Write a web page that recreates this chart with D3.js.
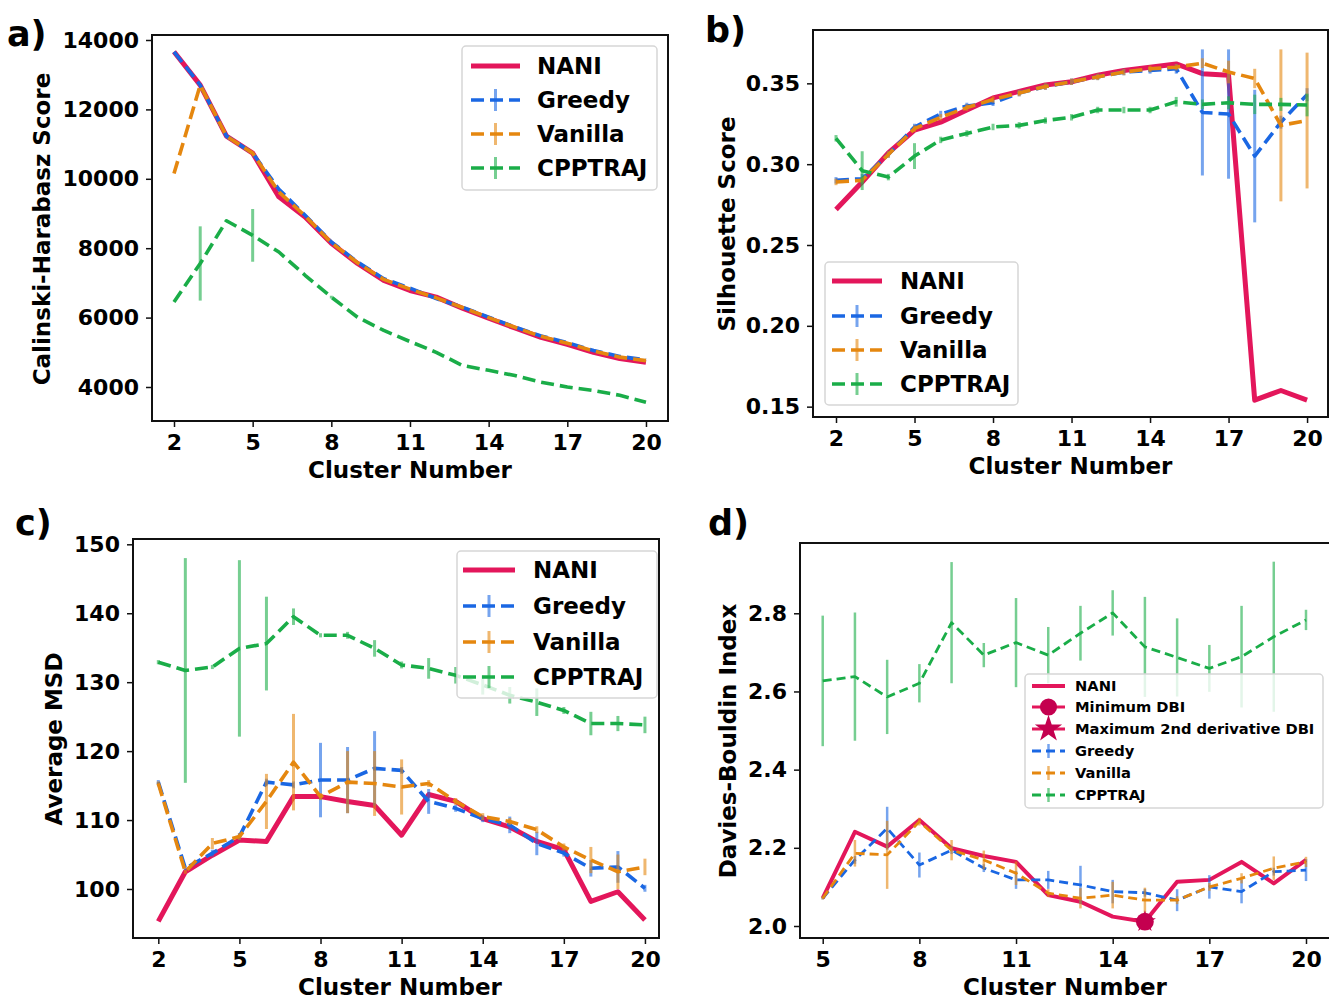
<!DOCTYPE html>
<html>
<head>
<meta charset="utf-8">
<script src="https://cdn.jsdelivr.net/npm/d3@7"></script>
<style>
  body { margin: 0; background: #fff; }
  text { font-family: "DejaVu Sans", sans-serif; font-weight: bold; }
</style>
</head>
<body>
<svg id="fig" width="1329" height="1000"></svg>
<script>
// cluster numbers on the x axes
const clusters = [2, 3, 4, 5, 6, 7, 8, 9, 10, 11, 12, 13, 14, 15, 16, 17, 18, 19, 20];
const clustersD = [5, 6, 7, 8, 9, 10, 11, 12, 13, 14, 15, 16, 17, 18, 19, 20];

// a) Calinski-Harabasz score
const chNani = [13660, 12700, 11230, 10740, 9480, 8900, 8140, 7560, 7070, 6780, 6590, 6270, 5980, 5700, 5430, 5230, 5000, 4820, 4710];
const chGreedy = [13660, 12700, 11230, 10740, 9700, 8950, 8180, 7600, 7120, 6850, 6550, 6300, 6010, 5730, 5470, 5280, 5050, 4880, 4780];
const chVanilla = [10150, 12700, 11230, 10740, 9620, 8930, 8160, 7580, 7100, 6820, 6570, 6290, 6000, 5720, 5460, 5260, 5040, 4860, 4760];
const chCpptraj = [6450, 7560, 8790, 8370, 7890, 7220, 6590, 6010, 5630, 5310, 5000, 4620, 4480, 4330, 4140, 4000, 3900, 3760, 3560];
const chCpptrajErr = [0, 1070, 0, 760, 0, 0, 40, 0, 0, 0, 0, 0, 0, 0, 0, 0, 0, 0, 0];

// b) Silhouette score
const silNani = [0.272, 0.289, 0.307, 0.321, 0.326, 0.3335, 0.341, 0.345, 0.349, 0.351, 0.355, 0.358, 0.360, 0.362, 0.356, 0.355, 0.154, 0.160, 0.154];
const silGreedy = [0.290, 0.291, 0.306, 0.323, 0.331, 0.336, 0.338, 0.344, 0.348, 0.351, 0.354, 0.357, 0.358, 0.359, 0.332, 0.331, 0.305, 0.326, 0.343];
const silGreedyErr = [0.002, 0.003, 0.002, 0.002, 0.002, 0.002, 0.002, 0.002, 0.002, 0.002, 0.002, 0.002, 0.002, 0.003, 0.039, 0.040, 0.041, 0.004, 0.004];
const silVanilla = [0.289, 0.290, 0.306, 0.322, 0.329, 0.335, 0.340, 0.344, 0.348, 0.351, 0.354, 0.357, 0.359, 0.360, 0.3625, 0.357, 0.353, 0.324, 0.327];
const silVanillaErr = [0.002, 0.002, 0.002, 0.002, 0.002, 0.002, 0.002, 0.002, 0.002, 0.002, 0.002, 0.002, 0.002, 0.002, 0.003, 0.007, 0.006, 0.047, 0.042];
const silCpptraj = [0.316, 0.296, 0.292, 0.305, 0.315, 0.319, 0.323, 0.324, 0.327, 0.329, 0.3335, 0.3335, 0.3335, 0.3386, 0.337, 0.338, 0.337, 0.337, 0.3366];
const silCpptrajErr = [0.002, 0.012, 0.002, 0.008, 0.002, 0.002, 0.002, 0.002, 0.002, 0.002, 0.002, 0.002, 0.002, 0.003, 0.003, 0.004, 0.006, 0.004, 0.007];

// c) Average MSD
const msdNani = [95.3, 102.5, 104.9, 107.1, 106.9, 113.4, 113.4, 112.7, 112.1, 107.8, 113.7, 112.7, 110.2, 109.0, 106.9, 105.7, 98.2, 99.6, 95.5];
const msdGreedy = [115.5, 103.0, 105.2, 107.6, 115.5, 115.1, 115.8, 115.8, 117.5, 117.2, 112.7, 111.7, 110.2, 109.3, 106.6, 105.2, 103.0, 103.2, 100.1];
const msdGreedyErr = [0.3, 0.3, 0.5, 0.5, 0.5, 0.5, 5.4, 4.8, 5.4, 0.5, 1.8, 0.5, 0.5, 1.2, 1.7, 0.5, 1.2, 2.3, 0.5];
const msdVanilla = [115.3, 102.5, 106.6, 107.6, 112.7, 118.4, 113.4, 115.5, 115.3, 114.8, 115.3, 112.7, 110.5, 109.8, 108.6, 106.1, 104.2, 102.5, 103.2];
const msdVanillaErr = [0.3, 0.3, 0.8, 0.5, 4.0, 7.0, 0.5, 4.5, 4.7, 4.0, 0.5, 0.5, 0.5, 0.5, 0.5, 0.5, 1.9, 2.5, 1.2];
const msdCpptraj = [132.9, 131.7, 132.2, 134.9, 135.6, 139.5, 136.8, 136.8, 134.9, 132.5, 132.0, 131.0, 129.6, 128.1, 127.1, 125.9, 124.0, 124.0, 123.8];
const msdCpptrajErr = [0.3, 16.3, 0.3, 12.8, 6.8, 1.2, 0.3, 0.5, 1.2, 0.5, 1.5, 1.2, 1.4, 1.2, 2.0, 0.5, 1.7, 1.1, 1.2];

// d) Davies-Bouldin index
const dbNani = [2.071, 2.241, 2.203, 2.271, 2.199, 2.179, 2.164, 2.079, 2.062, 2.024, 2.011, 2.113, 2.118, 2.164, 2.109, 2.169];
const dbGreedy = [2.071, 2.169, 2.250, 2.156, 2.194, 2.148, 2.118, 2.118, 2.105, 2.088, 2.085, 2.066, 2.100, 2.088, 2.139, 2.143];
const dbGreedyErr = [0.003, 0.01, 0.055, 0.032, 0.01, 0.01, 0.023, 0.023, 0.049, 0.03, 0.01, 0.028, 0.03, 0.03, 0.01, 0.028];
const dbVanilla = [2.071, 2.186, 2.182, 2.267, 2.194, 2.169, 2.135, 2.084, 2.071, 2.079, 2.066, 2.066, 2.100, 2.122, 2.148, 2.164];
const dbVanillaErr = [0.003, 0.034, 0.087, 0.01, 0.026, 0.024, 0.03, 0.01, 0.026, 0.034, 0.032, 0.01, 0.01, 0.013, 0.03, 0.013];
const dbCpptraj = [2.627, 2.638, 2.586, 2.621, 2.776, 2.693, 2.725, 2.693, 2.749, 2.801, 2.714, 2.687, 2.659, 2.689, 2.740, 2.783];
const dbCpptrajErr = [0.167, 0.164, 0.095, 0.049, 0.155, 0.031, 0.114, 0.072, 0.07, 0.058, 0.128, 0.1, 0.06, 0.13, 0.192, 0.026];
const dbMinCluster = [15];
const dbMaxDerivCluster = [15];

const cNani = "#e3165b", cGreedy = "#1a67e3", cVanilla = "#e5870f", cCpp = "#1aad48", cMark = "#c4004f";

const svg = d3.select("#fig");

function drawPanel(p) {
  const g = svg.append("g");
  const x = d3.scaleLinear().domain(p.xDomain).range([p.box.left, p.box.right]);
  const y = d3.scaleLinear().domain(p.yDomain).range([p.box.bottom, p.box.top]);

  p.series.forEach(s => {
    const pts = p.xs.map((c, i) => ({ c: c, v: s.values[i], e: s.err ? s.err[i] : 0 }));
    if (s.err) {
      g.append("g").selectAll("line").data(pts).join("line")
        .attr("x1", d => x(d.c)).attr("x2", d => x(d.c))
        .attr("y1", d => y(d.v - d.e)).attr("y2", d => y(d.v + d.e))
        .attr("stroke", s.color).attr("stroke-opacity", 0.6)
        .attr("stroke-width", p.errWidth);
    }
    g.append("path").datum(pts)
      .attr("d", d3.line().x(d => x(d.c)).y(d => y(d.v)))
      .attr("fill", "none")
      .attr("stroke", s.color)
      .attr("stroke-width", s.dashed ? p.dashWidth : p.solidWidth)
      .attr("stroke-dasharray", s.dashed ? p.dash : null)
      .attr("stroke-linejoin", "round");
  });

  if (p.markers) {
    p.markers.forEach(m => {
      m.xs.forEach(c => {
        const i = p.xs.indexOf(c);
        g.append("path")
          .attr("d", d3.symbol().type(m.type).size(m.size)())
          .attr("transform", `translate(${x(c)},${y(m.values[i])})`)
          .attr("fill", cMark);
      });
    });
  }

  // frame
  g.append("rect")
    .attr("x", p.box.left).attr("y", p.box.top)
    .attr("width", p.box.right - p.box.left).attr("height", p.box.bottom - p.box.top)
    .attr("fill", "none").attr("stroke", "#111").attr("stroke-width", 2);

  const xa = g.append("g").attr("transform", `translate(0,${p.box.bottom})`)
    .call(d3.axisBottom(x).tickValues(p.xTicks).tickSize(6).tickPadding(7.5).tickFormat(d3.format("d")));
  const ya = g.append("g").attr("transform", `translate(${p.box.left},0)`)
    .call(d3.axisLeft(y).tickValues(p.yTicks).tickSize(6).tickPadding(7).tickFormat(p.yFormat));
  [xa, ya].forEach(a => {
    a.select(".domain").remove();
    a.attr("font-size", 22).attr("font-family", "DejaVu Sans").attr("font-weight", "bold");
    a.selectAll(".tick line").attr("stroke", "#111").attr("stroke-width", 1.5);
    a.selectAll(".tick text").attr("fill", "#000");
  });

  g.append("text").attr("x", (p.box.left + p.box.right) / 2 + p.xLabelShift).attr("y", p.box.bottom + 57)
    .attr("text-anchor", "middle").attr("font-size", 23).text("Cluster Number");
  g.append("text").attr("transform", `translate(${p.yLabelX},${p.yLabelY}) rotate(-90)`)
    .attr("text-anchor", "middle").attr("dy", "0.35em").attr("font-size", 23).text(p.yLabel);
  g.append("text").attr("x", p.tag[0]).attr("y", p.tag[1]).attr("font-size", 35).text(p.tagText);

  // legend
  const L = p.legend;
  const lg = g.append("g");
  lg.append("rect").attr("x", L.x0).attr("y", L.y0).attr("width", L.x1 - L.x0).attr("height", L.y1 - L.y0)
    .attr("rx", 4).attr("fill", "#fff").attr("fill-opacity", 0.8).attr("stroke", "#d6d6d6").attr("stroke-width", 1.5);
  L.items.forEach((it, k) => {
    const yy = L.rows[k];
    const mid = (L.s0 + L.s1) / 2;
    if (it.kind === "solid") {
      lg.append("line").attr("x1", L.s0).attr("x2", L.s1).attr("y1", yy).attr("y2", yy)
        .attr("stroke", it.color).attr("stroke-width", p.solidWidth);
    } else if (it.kind === "marker") {
      lg.append("line").attr("x1", L.s0).attr("x2", L.s1).attr("y1", yy).attr("y2", yy)
        .attr("stroke", it.color).attr("stroke-width", p.solidWidth * 0.7);
      lg.append("path").attr("d", d3.symbol().type(it.type).size(it.size)())
        .attr("transform", `translate(${mid},${yy})`).attr("fill", cMark);
    } else {
      lg.append("line").attr("x1", L.s0).attr("x2", L.s1).attr("y1", yy).attr("y2", yy)
        .attr("stroke", it.color).attr("stroke-width", p.dashWidth).attr("stroke-dasharray", p.dash);
      lg.append("line").attr("x1", mid).attr("x2", mid).attr("y1", yy - L.bar).attr("y2", yy + L.bar)
        .attr("stroke", it.color).attr("stroke-opacity", 0.6).attr("stroke-width", p.errWidth);
    }
    lg.append("text").attr("x", L.tx).attr("y", yy).attr("dy", "0.36em")
      .attr("font-size", L.font).text(it.label);
  });
}

const mainItems = [
  { label: "NANI", kind: "solid", color: cNani },
  { label: "Greedy", kind: "err", color: cGreedy },
  { label: "Vanilla", kind: "err", color: cVanilla },
  { label: "CPPTRAJ", kind: "err", color: cCpp }
];
const common = { solidWidth: 5, dashWidth: 3.6, dash: "13,6", errWidth: 3 };

drawPanel(Object.assign({}, common, {
  box: { left: 152, right: 668, top: 35, bottom: 421 },
  xDomain: [1.161, 20.84], yDomain: [3020, 14144],
  xs: clusters, xTicks: [2, 5, 8, 11, 14, 17, 20], yTicks: [4000, 6000, 8000, 10000, 12000, 14000],
  yFormat: d3.format("d"),
  series: [
    { values: chNani, color: cNani },
    { values: chGreedy, color: cGreedy, dashed: true },
    { values: chVanilla, color: cVanilla, dashed: true },
    { values: chCpptraj, err: chCpptrajErr, color: cCpp, dashed: true }
  ],
  yLabel: "Calinski-Harabasz Score", yLabelX: 42, yLabelY: 229, xLabelShift: 0,
  tag: [7, 46], tagText: "a)",
  legend: { x0: 462, y0: 46, x1: 657, y1: 190, rows: [66, 100, 134, 168], s0: 471, s1: 520, tx: 537, font: 23, bar: 11, items: mainItems }
}));

drawPanel(Object.assign({}, common, {
  box: { left: 813, right: 1328, top: 30, bottom: 417 },
  xDomain: [1.121, 20.80], yDomain: [0.1436, 0.383],
  xs: clusters, xTicks: [2, 5, 8, 11, 14, 17, 20], yTicks: [0.15, 0.20, 0.25, 0.30, 0.35],
  yFormat: d3.format(".2f"),
  series: [
    { values: silNani, color: cNani },
    { values: silGreedy, err: silGreedyErr, color: cGreedy, dashed: true },
    { values: silVanilla, err: silVanillaErr, color: cVanilla, dashed: true },
    { values: silCpptraj, err: silCpptrajErr, color: cCpp, dashed: true }
  ],
  yLabel: "Silhouette Score", yLabelX: 727, yLabelY: 224, xLabelShift: 0,
  tag: [705, 42], tagText: "b)",
  legend: { x0: 825, y0: 262, x1: 1018, y1: 405, rows: [281, 316, 350, 384], s0: 832, s1: 882, tx: 900, font: 23, bar: 11, items: mainItems }
}));

drawPanel(Object.assign({}, common, {
  box: { left: 133, right: 659, top: 539, bottom: 938 },
  xDomain: [1.064, 20.52], yDomain: [92.89, 150.77],
  xs: clusters, xTicks: [2, 5, 8, 11, 14, 17, 20], yTicks: [100, 110, 120, 130, 140, 150],
  yFormat: d3.format("d"),
  series: [
    { values: msdNani, color: cNani },
    { values: msdGreedy, err: msdGreedyErr, color: cGreedy, dashed: true },
    { values: msdVanilla, err: msdVanillaErr, color: cVanilla, dashed: true },
    { values: msdCpptraj, err: msdCpptrajErr, color: cCpp, dashed: true }
  ],
  yLabel: "Average MSD", yLabelX: 54, yLabelY: 739, xLabelShift: 4,
  tag: [15, 535], tagText: "c)",
  legend: { x0: 457, y0: 551, x1: 657, y1: 698, rows: [570, 606, 642, 677], s0: 463, s1: 515, tx: 533, font: 23, bar: 11, items: mainItems }
}));

drawPanel({
  solidWidth: 4, dashWidth: 2.8, dash: "9,5", errWidth: 2.5,
  box: { left: 800, right: 1330, top: 543, bottom: 938 },
  xDomain: [4.295, 20.745], yDomain: [1.9693, 2.9798],
  xs: clustersD, xTicks: [5, 8, 11, 14, 17, 20], yTicks: [2.0, 2.2, 2.4, 2.6, 2.8],
  yFormat: d3.format(".1f"),
  series: [
    { values: dbNani, color: cNani },
    { values: dbGreedy, err: dbGreedyErr, color: cGreedy, dashed: true },
    { values: dbVanilla, err: dbVanillaErr, color: cVanilla, dashed: true },
    { values: dbCpptraj, err: dbCpptrajErr, color: cCpp, dashed: true }
  ],
  markers: [
    { xs: dbMaxDerivCluster, values: dbNani, type: d3.symbolStar, size: 150 },
    { xs: dbMinCluster, values: dbNani, type: d3.symbolCircle, size: 250 }
  ],
  yLabel: "Davies-Bouldin Index", yLabelX: 728, yLabelY: 741, xLabelShift: 0,
  tag: [708, 535], tagText: "d)",
  legend: {
    x0: 1025, y0: 674, x1: 1323, y1: 808, rows: [686, 707, 729, 751, 773, 795], s0: 1032, s1: 1065, tx: 1075, font: 14.7, bar: 7,
    items: [
      { label: "NANI", kind: "solid", color: cNani },
      { label: "Minimum DBI", kind: "marker", color: cNani, type: d3.symbolCircle, size: 230 },
      { label: "Maximum 2nd derivative DBI", kind: "marker", color: cNani, type: d3.symbolStar, size: 230 },
      { label: "Greedy", kind: "err", color: cGreedy },
      { label: "Vanilla", kind: "err", color: cVanilla },
      { label: "CPPTRAJ", kind: "err", color: cCpp }
    ]
  }
});
</script>
</body>
</html>
